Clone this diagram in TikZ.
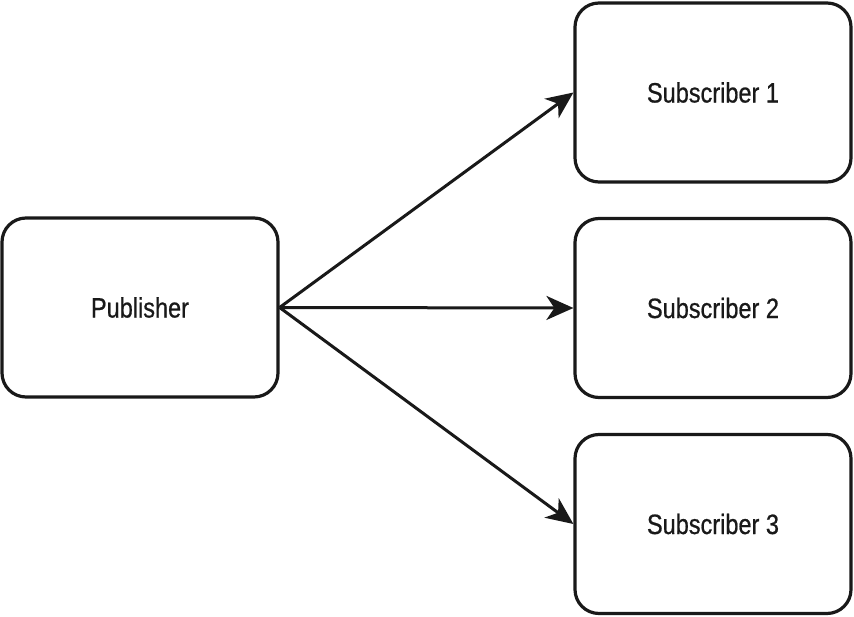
\documentclass[tikz,border=0pt]{standalone}
\usepackage{fontspec}
\setmainfont[FakeStretch=0.84,FakeBold=0.7]{Liberation Sans}
\usetikzlibrary{arrows.meta}
\begin{document}
\begin{tikzpicture}[x=1pt,y=-1pt,
  box/.style={draw=black!90, line width=3.2pt, rounded corners=24pt, minimum width=276pt, minimum height=179pt, inner sep=0pt, font=\fontsize{28}{30}\selectfont, text=black!90},
  conn/.style={draw=black!90, line width=3pt, -{Stealth[length=27pt,width=24pt,inset=8pt]}}]
\useasboundingbox (0,0) rectangle (854,617);
\node[box] (pub) at (140,307.5) {Publisher};
\node[box] (s1) at (713,92.5) {Subscriber 1};
\node[box] (s2) at (713,308) {Subscriber 2};
\node[box] (s3) at (713,524) {Subscriber 3};
\draw[conn] (pub.east) -- (s1.west);
\draw[conn] (pub.east) -- (s2.west);
\draw[conn] (pub.east) -- (s3.west);
\end{tikzpicture}
\end{document}
